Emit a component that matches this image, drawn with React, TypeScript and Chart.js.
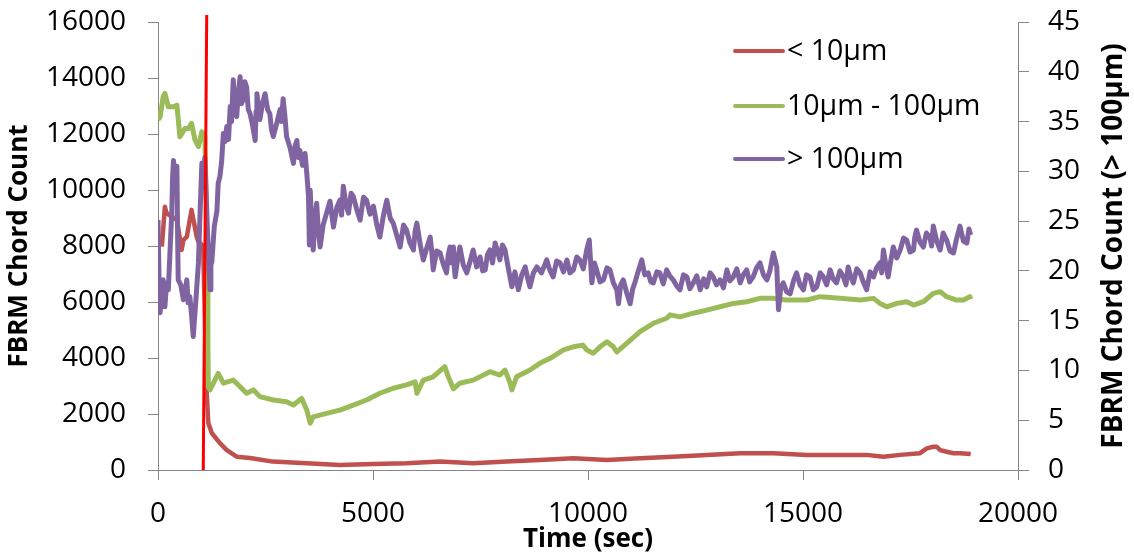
import React, { useEffect, useRef } from "react";
import { Chart, registerables } from "chart.js";

Chart.register(...registerables);

// ---- axis definitions ----
const xTickStep = 5000;
const xMax = 20000;
const leftMax = 16000;
const leftStep = 2000;
const rightMax = 45;
const rightStep = 5;

// ---- legend labels ----
const seriesNames = ["< 10\u00b5m", "10\u00b5m - 100\u00b5m", "> 100\u00b5m"];
const seriesColors = ["#C0504D", "#9BBB59", "#8064A2"];

// ---- marker line (time, left-axis count) at top and bottom ----
const markerTime = [1133, 1053];
const markerCount = [16250, 0];

// ---- < 10 µm chord counts: [time (sec), count] ----
const smallChords: [number, number][] = [
  [90, 7980], [160, 9400], [200, 9170], [440, 8930], [550, 7860], [590, 8210],
  [670, 8330], [780, 9290], [900, 8330], [940, 8150], [1050, 8000], [1133, 2750],
  [1170, 1680], [1250, 1320], [1440, 960], [1600, 710], [1830, 475], [2140, 430],
  [2670, 300], [3460, 240], [4230, 180], [5000, 210], [5780, 240], [6560, 300],
  [7330, 240], [8110, 300], [8880, 360], [9660, 420], [10440, 360], [11210, 420],
  [11980, 475], [12760, 540], [13540, 600], [14310, 600], [15090, 540], [15710, 540],
  [16480, 540], [16870, 475], [17260, 540], [17720, 600], [17880, 770], [18030, 830],
  [18110, 830], [18190, 710], [18340, 650], [18500, 600], [18650, 600], [18900, 570],
];

// ---- 10–100 µm chord counts ----
const midChords: [number, number][] = [
  [0, 12500], [50, 12620], [120, 13330], [160, 13450], [240, 12970], [360, 12970],
  [440, 13030], [510, 11900], [630, 12200], [710, 12200], [780, 12380], [860, 11790],
  [940, 11550], [1020, 12080], [1090, 11900], [1140, 8000], [1160, 4500], [1170, 2975],
  [1210, 2860], [1400, 3450], [1520, 3100], [1750, 3210], [1910, 2975], [2060, 2740],
  [2220, 2860], [2370, 2620], [2680, 2500], [2990, 2440], [3150, 2320], [3340, 2560],
  [3460, 2140], [3540, 1670], [3610, 1900], [3920, 2020], [4230, 2140], [4540, 2320],
  [4850, 2500], [5160, 2740], [5470, 2920], [5780, 3040], [5980, 3150], [6020, 2740],
  [6170, 3210], [6400, 3330], [6670, 3690], [6750, 3330], [6870, 2900], [7020, 3100],
  [7330, 3210], [7720, 3510], [7950, 3390], [8070, 3570], [8190, 3100], [8230, 2860],
  [8340, 3330], [8650, 3570], [8880, 3810], [9120, 3990], [9430, 4290], [9660, 4400],
  [9880, 4460], [9970, 4290], [10120, 4170], [10280, 4400], [10440, 4580], [10590, 4400],
  [10670, 4220], [10900, 4520], [11210, 4940], [11520, 5240], [11830, 5420], [11910, 5540],
  [12140, 5470], [12450, 5600], [12760, 5710], [13070, 5830], [13380, 5950], [13690, 6010],
  [14000, 6130], [14310, 6130], [14620, 6070], [15090, 6070], [15400, 6190], [15860, 6130],
  [16330, 6070], [16640, 6130], [16790, 5950], [16950, 5830], [17180, 5950], [17410, 6010],
  [17570, 5890], [17800, 6010], [18030, 6310], [18190, 6370], [18340, 6190], [18570, 6070],
  [18730, 6070], [18880, 6190], [18900, 6100],
];

// ---- > 100 µm chord counts (right axis) ----
const largeChords: [number, number][] = [
  [0, 25.1], [25, 19.0], [50, 15.8], [85, 18.0], [120, 19.1], [140, 17.2], [160, 16.4],
  [200, 18.8], [240, 18.1], [280, 22.0], [320, 25.8], [340, 29.5], [360, 31.1], [400, 29.0],
  [440, 30.5], [455, 24.0], [470, 19.1], [530, 18.6], [590, 17.1], [630, 18.0], [670, 19.1],
  [700, 16.8], [740, 17.4], [780, 15.6], [820, 13.4], [880, 17.0], [940, 20.8], [980, 26.0],
  [1020, 30.8], [1060, 29.0], [1090, 31.4], [1150, 24.0], [1210, 18.1], [1230, 21.5],
  [1250, 20.8], [1310, 24.5], [1370, 26.0], [1400, 28.8], [1440, 29.5], [1480, 31.0],
  [1520, 33.8], [1560, 33.0], [1600, 34.5], [1640, 33.2], [1680, 36.5], [1710, 35.0],
  [1750, 39.2], [1790, 36.0], [1830, 35.5], [1870, 38.0], [1910, 39.5], [1940, 36.8],
  [1980, 37.2], [2020, 39.0], [2060, 38.5], [2100, 36.2], [2140, 35.8], [2200, 34.6],
  [2260, 33.1], [2280, 36.0], [2300, 37.8], [2340, 36.4], [2370, 35.2], [2430, 36.8],
  [2490, 37.8], [2550, 36.2], [2600, 35.8], [2640, 34.2], [2680, 33.5], [2760, 34.8],
  [2840, 36.2], [2870, 35.0], [2910, 37.3], [2950, 35.6], [2990, 33.5], [3070, 32.4],
  [3150, 30.8], [3190, 32.6], [3230, 33.1], [3260, 31.4], [3300, 32.1], [3360, 30.6],
  [3420, 31.8], [3460, 29.8], [3500, 27.5], [3520, 22.6], [3540, 28.1], [3570, 25.0],
  [3610, 22.1], [3650, 25.4], [3690, 26.8], [3730, 24.0], [3770, 22.4], [3840, 24.6],
  [3920, 25.8], [4000, 27.0], [4080, 24.4], [4160, 26.4], [4230, 27.1], [4270, 25.6],
  [4310, 28.5], [4370, 26.7], [4430, 25.8], [4490, 27.8], [4540, 27.5], [4620, 26.2],
  [4700, 25.1], [4780, 27.4], [4850, 27.1], [4930, 25.7], [5010, 26.5], [5090, 24.6],
  [5160, 23.4], [5240, 25.5], [5320, 27.1], [5400, 25.3], [5470, 24.8], [5550, 23.6],
  [5630, 22.4], [5710, 24.6], [5780, 24.1], [5860, 22.8], [5940, 22.1], [5980, 24.0],
  [6020, 24.8], [6100, 22.6], [6170, 21.1], [6250, 22.3], [6330, 23.4], [6370, 21.8],
  [6400, 20.1], [6480, 22.0], [6560, 21.8], [6640, 20.6], [6710, 19.8], [6750, 21.6],
  [6790, 22.4], [6830, 20.8], [6870, 22.4], [6890, 20.4], [6910, 19.4], [6970, 21.2],
  [7020, 22.4], [7100, 20.6], [7180, 19.8], [7260, 21.0], [7330, 22.1], [7410, 20.4],
  [7490, 21.4], [7550, 20.0], [7610, 20.1], [7660, 21.6], [7720, 22.1], [7780, 20.8],
  [7840, 22.8], [7900, 21.9], [7950, 21.1], [8010, 22.6], [8070, 22.1], [8150, 20.2],
  [8230, 18.4], [8300, 19.9], [8380, 18.1], [8460, 19.6], [8540, 20.4], [8600, 19.2],
  [8650, 18.4], [8730, 19.8], [8810, 20.4], [8920, 19.8], [9040, 21.1], [9110, 20.1],
  [9190, 19.4], [9270, 21.0], [9350, 20.8], [9430, 19.9], [9510, 21.1], [9580, 19.8],
  [9660, 20.1], [9740, 21.4], [9810, 21.1], [9890, 20.2], [9970, 22.1], [10030, 23.1],
  [10090, 18.8], [10150, 20.8], [10200, 20.1], [10280, 18.9], [10360, 19.1], [10440, 20.3],
  [10510, 20.1], [10590, 18.8], [10670, 18.1], [10710, 16.7], [10760, 18.6], [10820, 19.1],
  [10900, 17.8], [10980, 16.7], [11040, 18.2], [11090, 18.8], [11170, 20.0], [11250, 21.1],
  [11320, 19.6], [11400, 19.8], [11460, 18.9], [11520, 18.8], [11600, 19.9], [11670, 19.8],
  [11750, 18.7], [11830, 20.1], [11900, 19.5], [11980, 19.1], [12060, 18.5], [12140, 18.1],
  [12220, 19.6], [12300, 19.4], [12370, 18.2], [12450, 18.8], [12530, 19.5], [12610, 18.1],
  [12690, 19.2], [12760, 18.4], [12840, 19.8], [12910, 19.4], [12990, 18.6], [13070, 19.1],
  [13150, 18.3], [13230, 20.1], [13300, 19.0], [13380, 19.4], [13460, 20.2], [13540, 18.8],
  [13610, 19.6], [13690, 20.1], [13760, 18.9], [13840, 19.4], [13920, 20.3], [14000, 20.8],
  [14080, 19.6], [14160, 19.1], [14230, 20.0], [14310, 21.8], [14390, 20.4], [14430, 16.1],
  [14480, 18.2], [14540, 18.8], [14620, 17.9], [14700, 17.7], [14780, 19.0], [14850, 19.8],
  [14930, 18.6], [15010, 18.1], [15080, 19.6], [15160, 19.4], [15240, 18.1], [15320, 18.4],
  [15400, 19.8], [15470, 19.4], [15550, 18.6], [15630, 20.1], [15700, 19.2], [15780, 18.8],
  [15860, 20.0], [15940, 19.4], [16000, 18.6], [16050, 20.4], [16110, 19.4], [16170, 18.8],
  [16250, 20.2], [16330, 19.8], [16400, 18.9], [16480, 18.1], [16560, 19.9], [16640, 19.4],
  [16710, 20.3], [16790, 20.8], [16830, 19.8], [16870, 22.1], [16920, 20.8], [16980, 19.4],
  [17040, 21.0], [17100, 22.4], [17180, 21.3], [17260, 22.1], [17340, 23.3], [17410, 23.1],
  [17490, 21.9], [17570, 22.1], [17600, 23.4], [17640, 24.1], [17720, 22.9], [17800, 22.4],
  [17870, 23.8], [17950, 23.4], [17990, 22.5], [18030, 24.5], [18110, 23.0], [18190, 22.1],
  [18260, 23.8], [18340, 23.1], [18420, 22.0], [18500, 21.8], [18570, 23.2], [18650, 24.5],
  [18730, 23.0], [18810, 22.8], [18860, 24.2], [18900, 23.6],
];

const FONT = "'Open Sans', sans-serif";

const toPoints = (rows: [number, number][]) => rows.map(([x, y]) => ({ x, y }));
const plainNumber = (v: any) => String(v);

const overlayPlugin = {
  id: "overlay",
  afterDatasetsDraw(chart: any) {
    const { ctx, scales } = chart;
    const xs = scales.x;
    const ys = scales.y;
    ctx.save();
    ctx.strokeStyle = "#FF0000";
    ctx.lineWidth = 3;
    ctx.beginPath();
    ctx.moveTo(xs.getPixelForValue(markerTime[0]), ys.getPixelForValue(markerCount[0]));
    ctx.lineTo(xs.getPixelForValue(markerTime[1]), ys.getPixelForValue(markerCount[1]));
    ctx.stroke();
    ctx.restore();
  },
  afterDraw(chart: any) {
    const { ctx, chartArea } = chart;
    ctx.save();
    // legend
    const lx = 735;
    const ly = [51, 106, 159];
    ctx.font = `28.5px ${FONT}`;
    ctx.textBaseline = "middle";
    ctx.textAlign = "left";
    seriesNames.forEach((name, i) => {
      ctx.strokeStyle = seriesColors[i];
      ctx.lineWidth = 4;
      ctx.lineCap = "round";
      ctx.beginPath();
      ctx.moveTo(lx, ly[i]);
      ctx.lineTo(lx + 48, ly[i]);
      ctx.stroke();
      ctx.fillStyle = "#000";
      ctx.fillText(name, lx + 52, ly[i] + 1);
    });
    // right axis title (reads bottom to top)
    ctx.translate(1114, (chartArea.top + chartArea.bottom) / 2);
    ctx.rotate(-Math.PI / 2);
    ctx.font = `bold 28px ${FONT}`;
    ctx.textAlign = "center";
    ctx.textBaseline = "middle";
    ctx.fillStyle = "#000";
    ctx.fillText("FBRM Chord Count (> 100\u00b5m)", 0, 0);
    ctx.restore();
  },
};

const fixWidth = (w: number) => (s: any) => {
  s.width = w;
  s.paddingTop = 0;
  s.paddingBottom = 0;
};

export default function App() {
  const ref = useRef<HTMLCanvasElement | null>(null);

  useEffect(() => {
    if (!ref.current) return;
    const axisGray = "#868686";
    const chart = new Chart(ref.current, {
      type: "line",
      data: {
        datasets: [
          {
            label: seriesNames[2],
            data: toPoints(largeChords),
            borderColor: seriesColors[2],
            borderWidth: 5,
            borderJoinStyle: "round",
            pointRadius: 0,
            yAxisID: "y1",
            order: 0,
          },
          {
            label: seriesNames[1],
            data: toPoints(midChords),
            borderColor: seriesColors[1],
            borderWidth: 5,
            borderJoinStyle: "round",
            pointRadius: 0,
            yAxisID: "y",
            order: 1,
          },
          {
            label: seriesNames[0],
            data: toPoints(smallChords),
            borderColor: seriesColors[0],
            borderWidth: 4.5,
            borderJoinStyle: "round",
            pointRadius: 0,
            yAxisID: "y",
            order: 2,
          },
        ],
      },
      options: {
        animation: false,
        responsive: false,
        parsing: false as any,
        layout: { padding: { top: 22, left: 0, right: 0, bottom: 0 } },
        plugins: { legend: { display: false }, tooltip: { enabled: false } },
        scales: {
          x: {
            type: "linear",
            min: 0,
            max: xMax,
            afterFit: (s: any) => {
              s.height = 86;
              s.paddingLeft = 0;
              s.paddingRight = 0;
            },
            ticks: {
              stepSize: xTickStep,
              color: "#000",
              font: { family: FONT, size: 28 },
              padding: 17,
              maxRotation: 0,
              callback: plainNumber,
            },
            grid: { drawOnChartArea: false, color: axisGray, tickLength: 10 },
            border: { color: axisGray, width: 1 },
            title: {
              display: true,
              text: "Time (sec)",
              color: "#000",
              font: { family: FONT, size: 26, weight: "bold" },
              padding: { top: 0, bottom: 1 },
            },
          },
          y: {
            position: "left",
            min: 0,
            max: leftMax,
            afterFit: fixWidth(158),
            ticks: {
              stepSize: leftStep,
              color: "#000",
              font: { family: FONT, size: 28 },
              padding: 22,
              callback: plainNumber,
            },
            grid: { drawOnChartArea: false, color: axisGray, tickLength: 10 },
            border: { color: axisGray, width: 1 },
            title: {
              display: true,
              text: "FBRM Chord Count",
              color: "#000",
              font: { family: FONT, size: 26, weight: "bold" },
              padding: { top: 4, bottom: 0 },
            },
          },
          y1: {
            position: "right",
            min: 0,
            max: rightMax,
            afterFit: fixWidth(116),
            ticks: {
              stepSize: rightStep,
              color: "#000",
              font: { family: FONT, size: 28 },
              padding: 19,
              callback: plainNumber,
            },
            grid: { drawOnChartArea: false, color: axisGray, tickLength: 11 },
            border: { color: axisGray, width: 1 },
          },
        },
      },
      plugins: [overlayPlugin],
    });
    return () => chart.destroy();
  }, []);

  return (
    <canvas
      ref={ref}
      width={1134}
      height={556}
      style={{ position: "fixed", left: 0, top: 0, display: "block", background: "#fff" }}
    />
  );
}
